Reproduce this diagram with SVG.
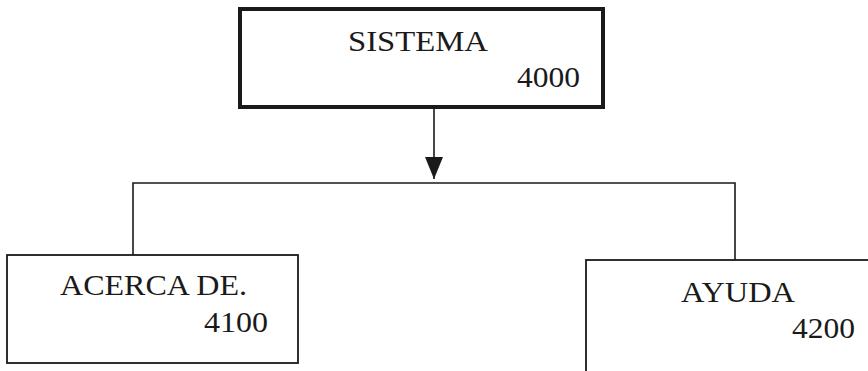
<svg xmlns="http://www.w3.org/2000/svg" width="868" height="371" viewBox="0 0 868 371">
<style>
.t{font-family:"Liberation Serif","Times New Roman",serif;font-size:30px;fill:#1a1a1a}
.box{fill:#fff;stroke:#1a1a1a;stroke-width:1.8}
.line{fill:none;stroke:#1a1a1a;stroke-width:1.6}
</style>
<defs>
<marker id="arr" viewBox="0 0 22 18" refX="22" refY="9" markerWidth="22" markerHeight="18" markerUnits="userSpaceOnUse" orient="auto">
<path d="M0,0 L22,9 L0,18 Z" fill="#1a1a1a"/>
</marker>
</defs>
<rect width="868" height="371" fill="#fff"/>
<g id="connectors">
<line class="line" x1="434" y1="108" x2="434" y2="179" marker-end="url(#arr)"/>
<path class="line" d="M133,255 L133,183 L735,183 L735,260"/>
</g>
<g id="sistema">
<rect x="240" y="9" width="363" height="98" fill="#fff" stroke="#1a1a1a" stroke-width="4"/>
<text class="t" x="348" y="51" textLength="140" lengthAdjust="spacingAndGlyphs">SISTEMA</text>
<text class="t" x="517" y="87" textLength="63" lengthAdjust="spacingAndGlyphs">4000</text>
</g>
<g id="acerca">
<rect class="box" x="7" y="255" width="291" height="108"/>
<text class="t" x="60" y="295" textLength="187" lengthAdjust="spacingAndGlyphs">ACERCA DE.</text>
<text class="t" x="204" y="332" textLength="64" lengthAdjust="spacingAndGlyphs">4100</text>
</g>
<g id="ayuda">
<rect class="box" x="586" y="260" width="300" height="130"/>
<text class="t" x="681" y="302" textLength="114" lengthAdjust="spacingAndGlyphs">AYUDA</text>
<text class="t" x="792" y="338" textLength="63" lengthAdjust="spacingAndGlyphs">4200</text>
</g>
</svg>
